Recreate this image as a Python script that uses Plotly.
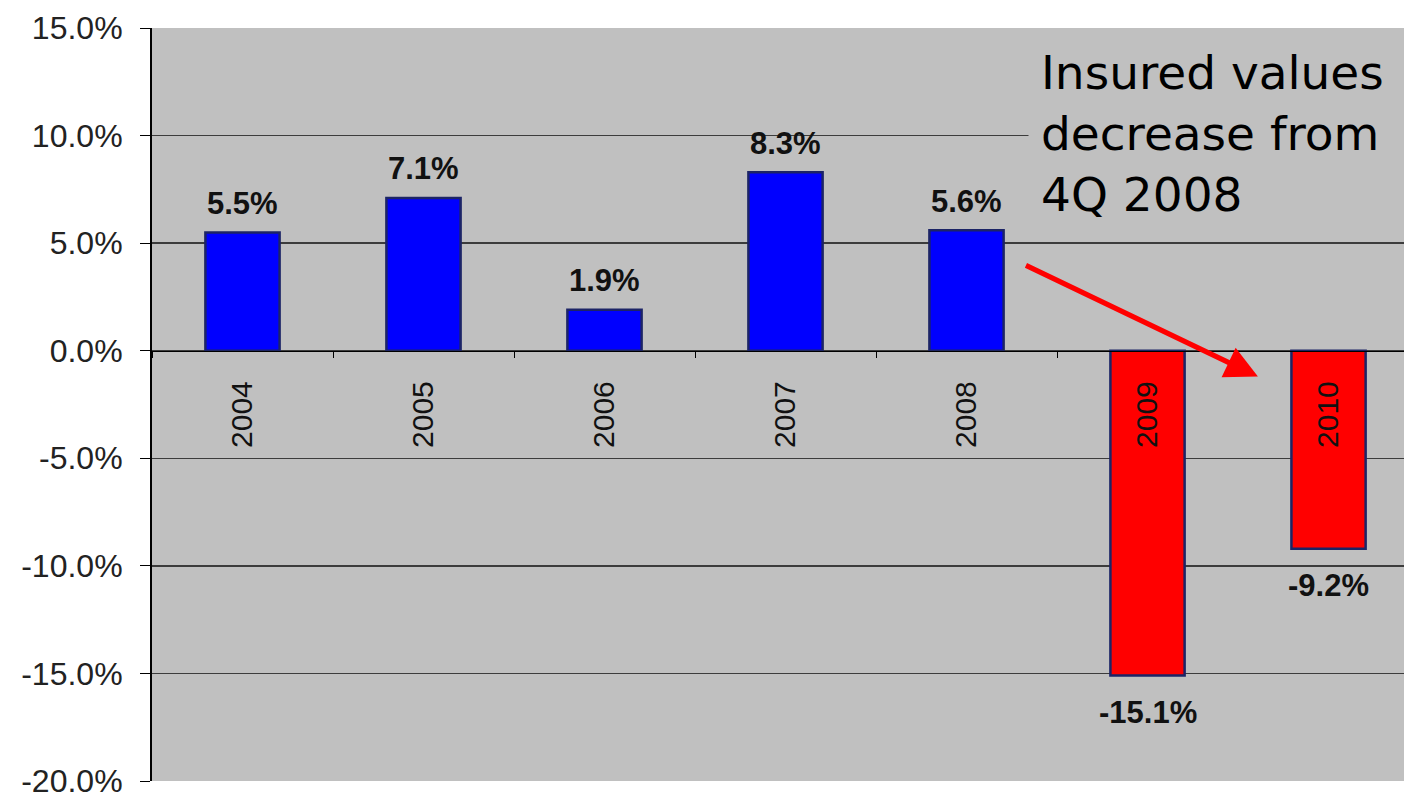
import plotly.graph_objects as go

years = ["2004", "2005", "2006", "2007", "2008", "2009", "2010"]
changes = [5.5, 7.1, 1.9, 8.3, 5.6, -15.1, -9.2]
bar_colors = ["#0000FF" if v >= 0 else "#FF0000" for v in changes]
y_ticks = [15, 10, 5, 0, -5, -10, -15, -20]
y_tick_text = [f"{t:.1f}%" for t in y_ticks]
note_text = "Insured values<br>decrease from<br>4Q 2008"

Y_MIN, Y_MAX = -20, 15

fig = go.Figure()
fig.add_trace(go.Bar(
    x=years, y=changes, width=0.41,
    marker=dict(color=bar_colors, line=dict(color="#1C2466", width=2.5)),
    hoverinfo="skip",
))

annotations = []
for i, v in enumerate(changes):
    annotations.append(dict(
        x=i, y=v, xref="x", yref="y", text=f"<b>{v:.1f}%</b>", showarrow=False,
        yanchor="middle", yshift=29 if v >= 0 else -37,
        font=dict(family="Liberation Sans", size=31, color="#111111"),
    ))

# arrow
annotations.append(dict(
    x=5.61, y=-1.2, ax=4.32, ay=4.0, xref="x", yref="y", axref="x", ayref="y",
    text="", showarrow=True, arrowhead=2, arrowsize=1.3, arrowwidth=5,
    arrowcolor="#FF0000", standoff=0,
))
# note
annotations.append(dict(
    x=0.700, y=0.9947, xref="paper", yref="paper", xanchor="left", yanchor="top",
    text=note_text, showarrow=False, align="left", width=400,
    bgcolor="#C0C0C0", borderpad=12,
    font=dict(family="DejaVu Sans", size=47, color="#000000"),
))

fig.update_layout(
    width=1404, height=800,
    margin=dict(l=152, r=0, t=28, b=19, autoexpand=False),
    paper_bgcolor="#FFFFFF", plot_bgcolor="#C0C0C0",
    showlegend=False, bargap=0.59,
    annotations=annotations,
    xaxis=dict(
        type="category", range=[-0.5, 6.417], automargin=False,
        anchor="free", position=(0 - Y_MIN) / (Y_MAX - Y_MIN),
        showline=True, linecolor="#000000", linewidth=1.5,
        ticks="outside", tickson="boundaries", ticklen=6, tickcolor="#000000",
        tickangle=-90, ticklabelstandoff=17,
        tickfont=dict(family="Liberation Sans", size=30, color="#111111"),
        showgrid=False, zeroline=False, fixedrange=True,
    ),
    yaxis=dict(
        range=[Y_MIN, Y_MAX], tickvals=y_ticks, ticktext=y_tick_text,
        automargin=False,
        showline=True, linecolor="#000000", linewidth=2,
        ticks="outside", ticklen=10, tickcolor="#000000",
        ticklabelstandoff=11,
        tickfont=dict(family="Liberation Sans", size=32, color="#222222"),
        showgrid=True, gridcolor="#3C3C3C", gridwidth=1.5,
        zeroline=False, fixedrange=True,
    ),
)

fig.write_html("out.html", config={"displayModeBar": False, "staticPlot": True},
               post_script="document.body.style.margin='0';")
